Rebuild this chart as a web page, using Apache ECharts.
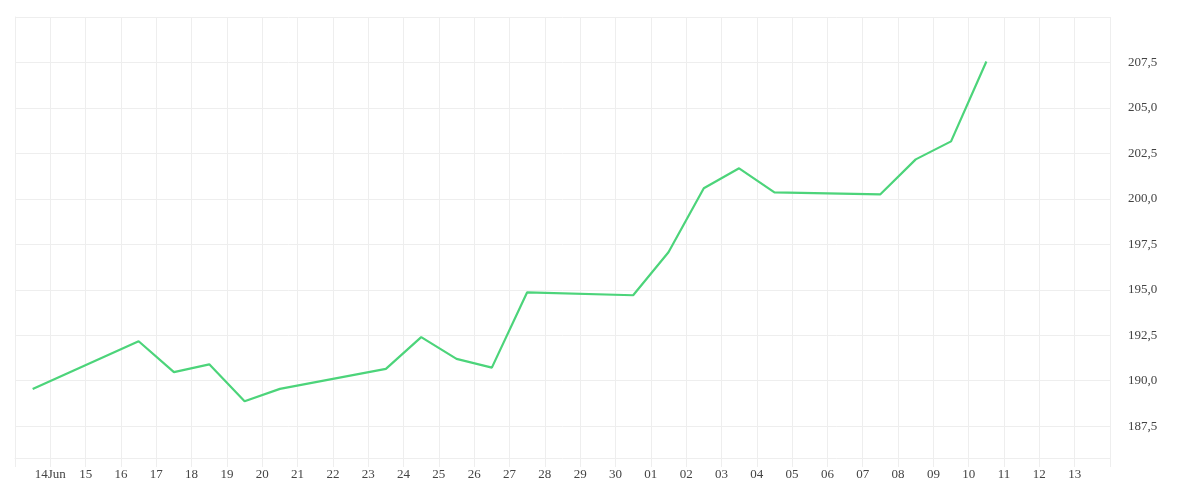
<!DOCTYPE html>
<html><head><meta charset="utf-8">
<script src="https://cdn.jsdelivr.net/npm/echarts@6/dist/echarts.min.js"></script>
<style>html,body{margin:0;padding:0;background:#fff}#c{width:1200px;height:500px}</style>
</head><body><div id="c"></div>
<script>
const dates = ['06-13','06-16','06-17','06-18','06-19','06-20','06-23','06-24','06-25','06-26','06-27','06-30','07-01','07-02','07-03','07-04','07-07','07-08','07-09','07-10'];
const values = [189.55,192.17,190.47,190.9,188.87,189.55,190.65,192.4,191.2,190.72,194.86,194.7,197.06,200.58,201.68,200.36,200.25,202.17,203.16,207.55];
const yTicks = [187.5,190,192.5,195,197.5,200,202.5,205,207.5,210];
const base = Date.UTC(2023,5,13);
const day = 86400000;
const pts = dates.map((d,i)=>{const [m,dd]=d.split('-').map(Number);return [(Date.UTC(2023,m-1,dd)-base)/day+0.5, values[i]];});
const font = 'Liberation Serif';
const chart = echarts.init(document.getElementById('c'));
chart.setOption({
  animation:false,
  grid:{left:15,right:90,top:17,bottom:42},
  xAxis:{type:'value',min:0,max:31,interval:1,
    axisLine:{show:true,lineStyle:{color:'#eeeeee'}},
    axisTick:{show:true,length:9,lineStyle:{color:'#eeeeee'}},
    splitLine:{show:true,lineStyle:{color:'#eeeeee'}},
    axisLabel:{color:'#444',fontFamily:font,fontSize:13,margin:10,
      formatter:v=>{if(v<=0||v>=31)return '';const d=new Date(base+v*day);const n=String(d.getUTCDate()).padStart(2,'0');return v===1?n+'Jun':n;}}},
  yAxis:{type:'value',position:'right',min:185.75,max:210,
    axisLine:{show:true,lineStyle:{color:'#eeeeee'}},
    axisTick:{show:false,customValues:yTicks},
    splitLine:{show:true,lineStyle:{color:'#eeeeee'}},
    axisLabel:{customValues:yTicks.slice(0,-1),color:'#444',fontFamily:font,fontSize:13,margin:18,
      formatter:v=>v.toFixed(1).replace('.',',')}},
  series:[{type:'line',data:pts,showSymbol:false,lineStyle:{color:'#4cd47a',width:2.2},itemStyle:{color:'#4cd47a'}}]
});
</script></body></html>
